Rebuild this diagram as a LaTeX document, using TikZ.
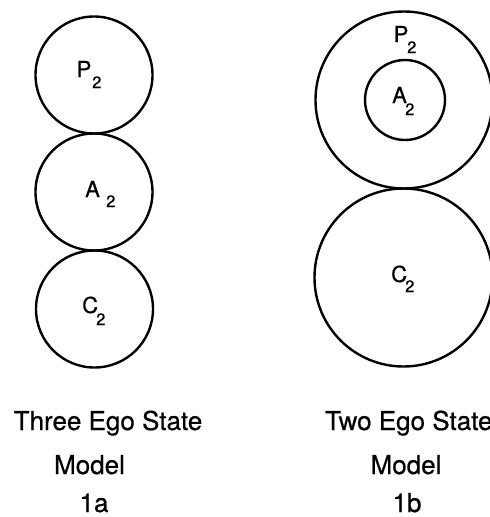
\documentclass[tikz,border=0pt]{standalone}
\usepackage{fontspec}
\setmainfont{TeX Gyre Heros}[FakeBold=0.6]
\begin{document}
\begin{tikzpicture}[x=1pt,y=-1pt,
  ring/.style={draw, circle, line width=2.4pt, inner sep=0pt, outer sep=0pt},
  letter/.style={anchor=base west, inner sep=0pt, font=\fontsize{22}{22}\selectfont},
  sub/.style={anchor=base west, inner sep=0pt, font=\fontsize{16.5}{16.5}\selectfont},
  caption/.style={anchor=base, inner sep=0pt, font=\fontsize{26}{26}\selectfont}]
\useasboundingbox (0,0) rectangle (490,517);
% model 1a
\node[ring, minimum size=117pt] (P1) at (94,75) {};
\node[ring, minimum size=117pt] (A1) at (94,192) {};
\node[ring, minimum size=117pt] (C1) at (94.5,309) {};
\node[letter] (P1l) at (76.5,77) {P};
\node[sub] (P1s) at (92,88) {2};
\node[letter] (A1l) at (85,197) {A};
\node[sub] (A1s) at (106,207) {2};
\node[letter] (C1l) at (82,313) {C};
\node[sub] (C1s) at (96,325) {2};
% model 1b
\node[ring, minimum size=177pt] (P2) at (404,100) {};
\node[ring, minimum size=80pt] (A2) at (405,100) {};
\node[ring, minimum size=178pt] (C2) at (403.5,277.5) {};
\node[letter] (P2l) at (393.5,42) {P};
\node[sub] (P2s) at (407,53) {2};
\node[letter] (A2l) at (392,103) {A};
\node[sub] (A2s) at (405,115) {2};
\node[letter] (C2l) at (391,282) {C};
\node[sub] (C2s) at (405,292) {2};
% captions
\node[caption] (t1) at (108,430) {Three Ego State};
\node[caption] (m1) at (89.5,474) {Model};
\node[caption] (n1) at (94,512) {1a};
\node[caption, anchor=base west] (t2) at (325,430) {Two Ego State};
\node[caption] (m2) at (406,474) {Model};
\node[caption] (n2) at (407,512) {1b};
\end{tikzpicture}
\end{document}
